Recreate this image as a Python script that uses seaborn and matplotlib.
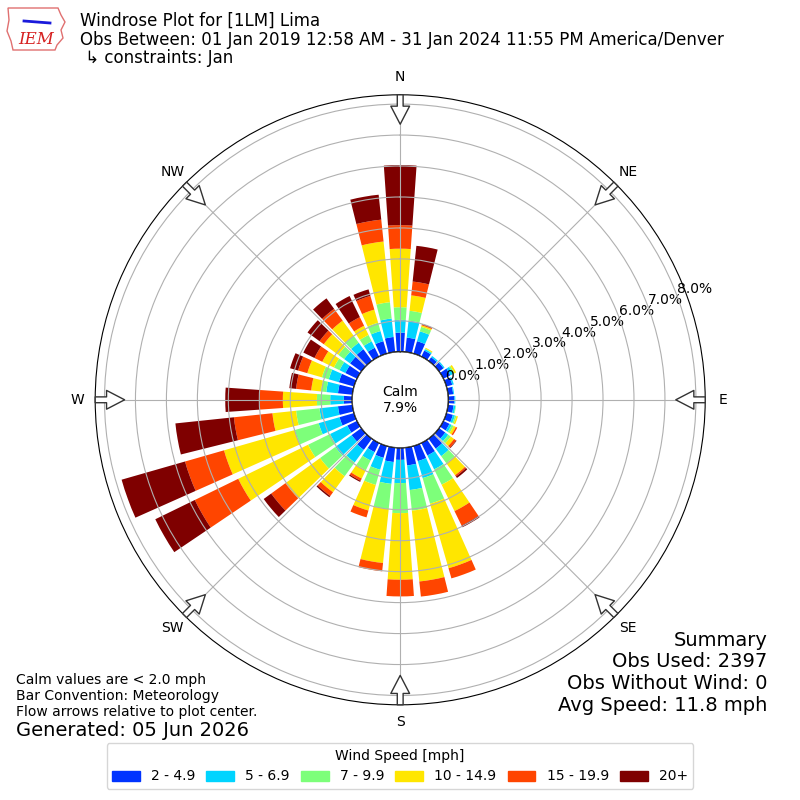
import numpy as np
import pandas as pd
import matplotlib
matplotlib.use("Agg")
import matplotlib.pyplot as plt
from matplotlib.patches import Circle, Patch, Polygon
import seaborn as sns

# direction bins (degrees, meteorological) and % frequency per speed bin
directions = list(range(0, 360, 10))
speed_labels = ["2 - 4.9", "5 - 6.9", "7 - 9.9", "10 - 14.9", "15 - 19.9", "20+"]
speed_colors = ["#0033ff", "#00d4ff", "#7dff7a", "#ffe600", "#ff4500", "#7f0000"]

s_2_5 = [0.62, 0.47, 0.42, 0.22, 0.15, 0.18, 0.25, 0.20, 0.17, 0.20, 0.18, 0.22,
         0.22, 0.25, 0.40, 0.45, 0.51, 0.58, 0.39, 0.47, 0.40, 0.33, 0.45, 0.39,
         0.35, 0.49, 0.47, 0.27, 0.47, 0.51, 0.42, 0.45, 0.47, 0.32, 0.42, 0.49]
s_5_7 = [0.41, 0.55, 0.33, 0.05, 0.05, 0.04, 0.10, 0.05, 0.03, 0.03, 0.06, 0.07,
         0.08, 0.12, 0.30, 0.50, 0.57, 0.80, 0.75, 0.71, 0.40, 0.30, 0.50, 0.65,
         0.62, 0.70, 0.60, 0.44, 0.38, 0.34, 0.21, 0.24, 0.26, 0.23, 0.34, 0.60]
s_7_10 = [0.41, 0.32, 0.15, 0.02, 0.00, 0.00, 0.05, 0.00, 0.00, 0.00, 0.02, 0.05,
          0.07, 0.10, 0.28, 0.55, 0.86, 0.67, 0.97, 0.82, 0.51, 0.35, 0.55, 0.61,
          0.79, 0.80, 0.76, 0.43, 0.17, 0.23, 0.20, 0.23, 0.27, 0.23, 0.28, 0.53]
s_10_15 = [1.89, 0.50, 0.05, 0.03, 0.00, 0.00, 0.06, 0.00, 0.00, 0.00, 0.00, 0.05,
           0.08, 0.13, 0.48, 0.95, 2.17, 2.30, 2.15, 1.75, 0.86, 0.30, 0.64, 1.38,
           2.51, 2.38, 0.77, 1.10, 0.32, 0.49, 0.42, 0.58, 0.61, 0.33, 0.44, 1.97]
s_15_20 = [0.76, 0.45, 0.03, 0.00, 0.00, 0.00, 0.00, 0.00, 0.00, 0.00, 0.00, 0.00,
           0.05, 0.08, 0.05, 0.52, 0.34, 0.49, 0.54, 0.27, 0.23, 0.08, 0.15, 0.57,
           1.56, 1.31, 1.25, 0.75, 0.49, 0.31, 0.28, 0.17, 0.47, 0.31, 0.46, 0.71]
s_20 = [1.94, 1.16, 0.02, 0.00, 0.00, 0.00, 0.00, 0.00, 0.00, 0.00, 0.00, 0.00,
        0.00, 0.02, 0.06, 0.06, 0.00, 0.00, 0.00, 0.00, 0.00, 0.04, 0.05, 0.30,
        1.42, 2.13, 1.90, 1.11, 0.22, 0.27, 0.40, 0.48, 0.42, 0.76, 0.22, 0.81]

calm_pct = 7.9
card_labels = ["N", "NE", "E", "SE", "S", "SW", "W", "NW"]
summary_lines = ["Summary", "Obs Used: 2397", "Obs Without Wind: 0", "Avg Speed: 11.8 mph"]

df = pd.DataFrame({"dir": directions, speed_labels[0]: s_2_5, speed_labels[1]: s_5_7,
                   speed_labels[2]: s_7_10, speed_labels[3]: s_10_15,
                   speed_labels[4]: s_15_20, speed_labels[5]: s_20})
palette = sns.color_palette(speed_colors)

fig = plt.figure(figsize=(8, 8), dpi=100)
ax = fig.add_axes([0.119, 0.119, 0.7625, 0.7625], projection="polar")
ax.set_theta_zero_location("N")
ax.set_theta_direction(-1)

theta = np.deg2rad(df["dir"].values)
bottom = np.zeros(len(df))
for lab, col in zip(speed_labels, palette):
    vals = df[lab].values
    ax.bar(theta, vals, width=np.deg2rad(8), bottom=bottom, color=col,
           edgecolor="none", linewidth=0, label=lab)
    bottom = bottom + vals

ax.set_ylim(0, 8.3)
ax.set_rorigin(-1.55)
ax.set_axisbelow(False)
ax.set_rgrids(np.arange(0, 9), labels=[f"{v:.1f}%" for v in range(0, 9)],
              angle=69.5, fontsize=10)
ax.set_thetagrids(range(0, 360, 45), labels=card_labels, fontsize=10)
ax.tick_params(axis="x", pad=2)
ax.grid(True, color="#b0b0b0", linewidth=0.8)

# calm circle in the middle
ax.add_patch(Circle((0.5, 0.5), 48 / 610, transform=ax.transAxes, fc="white",
                    ec="black", lw=1, zorder=5))
ax.text(0.5, 0.5, f"Calm\n{calm_pct:.1f}%", transform=ax.transAxes, ha="center",
        va="center", fontsize=10, zorder=6)

# flow arrows at the compass points
for d in range(0, 360, 45):
    t = np.deg2rad(d)
    ax.annotate("", xy=(t, 7.35), xytext=(t, 8.3), annotation_clip=False,
                arrowprops=dict(arrowstyle="simple,head_length=1.3,head_width=1.35,tail_width=0.42",
                                fc="white", ec="#333333", lw=1, shrinkA=0, shrinkB=0),
                zorder=7)

# titles
fig.text(0.1, 0.985, "Windrose Plot for [1LM] Lima\n"
         "Obs Between: 01 Jan 2019 12:58 AM - 31 Jan 2024 11:55 PM America/Denver\n"
         " \u21b3 constraints: Jan", ha="left", va="top", fontsize=12, linespacing=1.05)

# crude IEM logo
iowa = [(8, 8), (58, 8), (61, 15), (65, 22), (61, 30), (63, 38), (57, 45), (55, 50),
        (13, 50), (11, 41), (7, 31), (9, 20)]
fig.patches.append(Polygon([(x / 800, 1 - y / 800) for x, y in iowa], closed=True,
                           transform=fig.transFigure, fc="white", ec="#e07070", lw=1))
fig.add_artist(plt.Line2D([24 / 800, 50 / 800], [1 - 21 / 800, 1 - 23 / 800],
                          color="#1a1adb", lw=2, transform=fig.transFigure))
fig.text(36 / 800, 1 - 39 / 800, "IEM", color="#d62020", fontsize=12,
         style="italic", family="serif", ha="center", va="center")

# notes
fig.text(0.02, 1 - 696 / 800, "Calm values are < 2.0 mph\nBar Convention: Meteorology\n"
         "Flow arrows relative to plot center.", ha="left", va="center", fontsize=10,
         linespacing=1.15)
fig.text(0.02, 1 - 730 / 800, "Generated: 05 Jun 2026", ha="left", va="center", fontsize=14)
for i, line in enumerate(summary_lines):
    fig.text(0.959, 1 - (640 + 21.7 * i) / 800, line, ha="right", va="center", fontsize=14)

handles = [Patch(color=c, label=l) for l, c in zip(speed_labels, palette)]
fig.legend(handles=handles, loc="lower center", bbox_to_anchor=(0.5, 0.005), ncol=6,
           title="Wind Speed [mph]", fontsize=10, title_fontsize=10, columnspacing=0.8)

fig.savefig("out.png", dpi=100)
